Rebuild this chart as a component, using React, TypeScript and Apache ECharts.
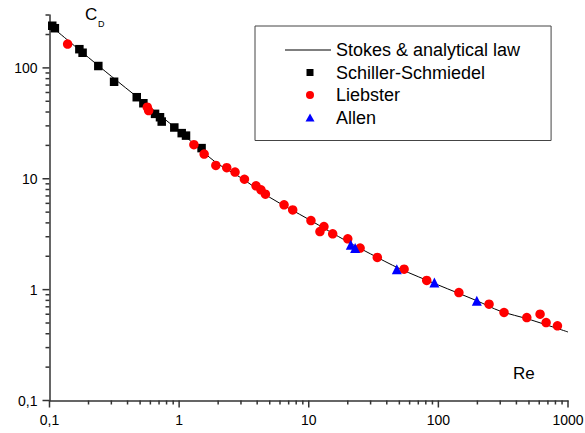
import React, { useEffect, useRef } from 'react';
import * as echarts from 'echarts';

const X_MIN = 0.1;
const X_MAX = 1000;
const Y_MIN = 0.1;
const Y_MAX = 300;

const stokesRe = [0.1, 0.2, 0.3, 0.5, 1, 1.5, 2, 3, 5, 10, 20, 30, 50, 100, 200, 300, 500, 1000];
const stokesCd = [244, 124, 84, 52, 27, 17.8, 13.6, 10.2, 6.8, 4.3, 2.7, 2.1, 1.55, 1.1, 0.79, 0.64, 0.54, 0.415];

const schillerRe = [0.105, 0.11, 0.17, 0.18, 0.238, 0.315, 0.471, 0.53, 0.652, 0.712, 0.734, 0.918, 1.047, 1.13, 1.49];
const schillerCd = [240, 228, 147.5, 137, 104, 75, 54.4, 48, 38.5, 35.9, 32.8, 29, 25.8, 24.5, 18.9];

const liebsterRe = [0.138, 0.568, 0.582, 1.3, 1.56, 1.92, 2.33, 2.7, 3.19, 3.92, 4.28, 4.63, 6.45, 7.52, 10.4, 12.2, 13.1, 15.3, 20.0, 24.9, 33.8, 54.4, 81.3, 144, 246, 321, 481, 609, 678, 829];
const liebsterCd = [164, 44.2, 41.2, 20.3, 16.7, 13.2, 12.6, 11.5, 9.9, 8.63, 7.94, 7.26, 5.82, 5.24, 4.2, 3.34, 3.71, 3.19, 2.87, 2.37, 1.95, 1.53, 1.21, 0.94, 0.74, 0.622, 0.56, 0.601, 0.505, 0.472];

const allenRe = [21.1, 22.8, 47.8, 93.1, 198];
const allenCd = [2.54, 2.37, 1.53, 1.16, 0.792];

const xMajorTicks = [0.1, 1, 10, 100, 1000];
const xMinorTicks = [
  0.2, 0.3, 0.4, 0.5, 0.6, 0.7, 0.8, 0.9,
  2, 3, 4, 5, 6, 7, 8, 9,
  20, 30, 40, 50, 60, 70, 80, 90,
  200, 300, 400, 500, 600, 700, 800, 900,
];
const yMajorTicks = [0.1, 1, 10, 100];
const yMinorTicks = [
  0.2, 0.3, 0.4, 0.5, 0.6, 0.7, 0.8, 0.9,
  2, 3, 4, 5, 6, 7, 8, 9,
  20, 30, 40, 50, 60, 70, 80, 90,
  200, 300,
];

const seriesNames = ['Stokes & analytical law', 'Schiller-Schmiedel', 'Liebster', 'Allen'];
// legend icon shapes (46x8 box so that they keep their size and sit off-centre like the reference)
const legendIcons = [
  'path://M0,0L46,0L46,1L0,1Z',
  'path://M0,0M46,8M21.5,0.5L28.5,0.5L28.5,7.5L21.5,7.5Z',
  'path://M0,0M46,8M21,4A4,4,0,1,1,29,4A4,4,0,1,1,21,4Z',
  'path://M0,0M46,8M25,0L29.5,8L20.5,8Z',
];

const FONT = '"Liberation Sans", Arial, Helvetica, sans-serif';
const AXIS_COLOR = '#333';

const zip = (a: number[], b: number[]) => a.map((v, i) => [v, b[i]]);

const fmt = (v: number) => {
  const l = Math.log10(v);
  if (Math.abs(l - Math.round(l)) > 1e-6) return '';
  const p = Math.round(l);
  const s = p >= 0 ? String(Math.round(Math.pow(10, p))) : String(Number(Math.pow(10, p).toPrecision(3)));
  return s.replace('.', ',');
};

const tickSeries = (values: number[], axis: 'x' | 'y', len: number) => ({
  type: 'custom',
  silent: true,
  clip: false,
  z: 1,
  data: values.map((v) => (axis === 'x' ? [v, Y_MIN] : [X_MIN, v])),
  renderItem: (_params: any, api: any) => {
    const p = api.coord([api.value(0), api.value(1)]);
    return {
      type: 'line',
      shape:
        axis === 'x'
          ? { x1: p[0], y1: p[1], x2: p[0], y2: p[1] + len }
          : { x1: p[0] - len, y1: p[1], x2: p[0], y2: p[1] },
      style: { stroke: AXIS_COLOR, lineWidth: 1.5 },
    };
  },
});

export default function App() {
  const ref = useRef<HTMLDivElement>(null);
  useEffect(() => {
    if (!ref.current) return;
    const chart = echarts.init(ref.current, undefined, { renderer: 'svg' });
    chart.setOption({
      animation: false,
      backgroundColor: '#fff',
      textStyle: { fontFamily: FONT },
      grid: { left: 49.5, right: 17, top: 15, bottom: 32.5, outerBoundsMode: 'none' },
      legend: {
        data: seriesNames.map((name, i) => ({ name, icon: legendIcons[i] })),
        orient: 'vertical',
        left: 255,
        top: 26,
        padding: [15, 31, 14, 30],
        itemGap: 4.5,
        itemWidth: 46,
        itemHeight: 8,
        symbolKeepAspect: true,
        borderColor: '#444',
        borderWidth: 1,
        textStyle: { fontSize: 18, color: '#000', fontFamily: FONT },
        selectedMode: false,
      },
      xAxis: {
        type: 'log',
        logBase: 10,
        min: X_MIN,
        max: X_MAX,
        splitLine: { show: false },
        axisTick: { show: false },
        axisLine: { lineStyle: { color: AXIS_COLOR, width: 1.5 } },
        axisLabel: { color: '#000', fontSize: 14, margin: 12, fontFamily: FONT, formatter: fmt, showMinLabel: true, showMaxLabel: true },
      },
      yAxis: {
        type: 'log',
        logBase: 10,
        min: Y_MIN,
        max: Y_MAX,
        splitLine: { show: false },
        axisTick: { show: false },
        axisLine: { lineStyle: { color: AXIS_COLOR, width: 1.5 } },
        axisLabel: { color: '#000', fontSize: 14, margin: 12, fontFamily: FONT, formatter: fmt, showMinLabel: true },
      },
      graphic: [
        { type: 'text', left: 85, top: 6, style: { text: 'C', fontSize: 17, fill: '#000', fontFamily: FONT } },
        { type: 'text', left: 98, top: 19.5, style: { text: 'D', fontSize: 9, fill: '#000', fontFamily: FONT } },
        { type: 'text', left: 513, top: 365, style: { text: 'Re', fontSize: 17, fill: '#000', fontFamily: FONT } },
      ],
      series: [
        {
          name: seriesNames[0],
          type: 'line',
          data: zip(stokesRe, stokesCd),
          symbol: 'none',
          smooth: 0.3,
          lineStyle: { color: '#000', width: 1 },
          itemStyle: { color: '#000' },
          z: 2,
        },
        {
          name: seriesNames[1],
          type: 'scatter',
          data: zip(schillerRe, schillerCd),
          symbol: 'rect',
          symbolSize: 8.5,
          itemStyle: { color: '#000', opacity: 1 },
          z: 3,
        },
        {
          name: seriesNames[2],
          type: 'scatter',
          data: zip(liebsterRe, liebsterCd),
          symbol: 'circle',
          symbolSize: 9.5,
          itemStyle: { color: '#ff0000', opacity: 1 },
          z: 3,
        },
        {
          name: seriesNames[3],
          type: 'scatter',
          data: zip(allenRe, allenCd),
          symbol: 'triangle',
          symbolSize: 10,
          itemStyle: { color: '#0000ff', opacity: 1 },
          z: 3,
        },
        tickSeries(xMajorTicks, 'x', 7),
        tickSeries(xMinorTicks, 'x', 4),
        tickSeries(yMajorTicks, 'y', 7),
        tickSeries(yMinorTicks, 'y', 4),
      ],
    });
    return () => chart.dispose();
  }, []);
  return <div ref={ref} style={{ position: 'fixed', left: 0, top: 0, width: 585, height: 433 }} />;
}
